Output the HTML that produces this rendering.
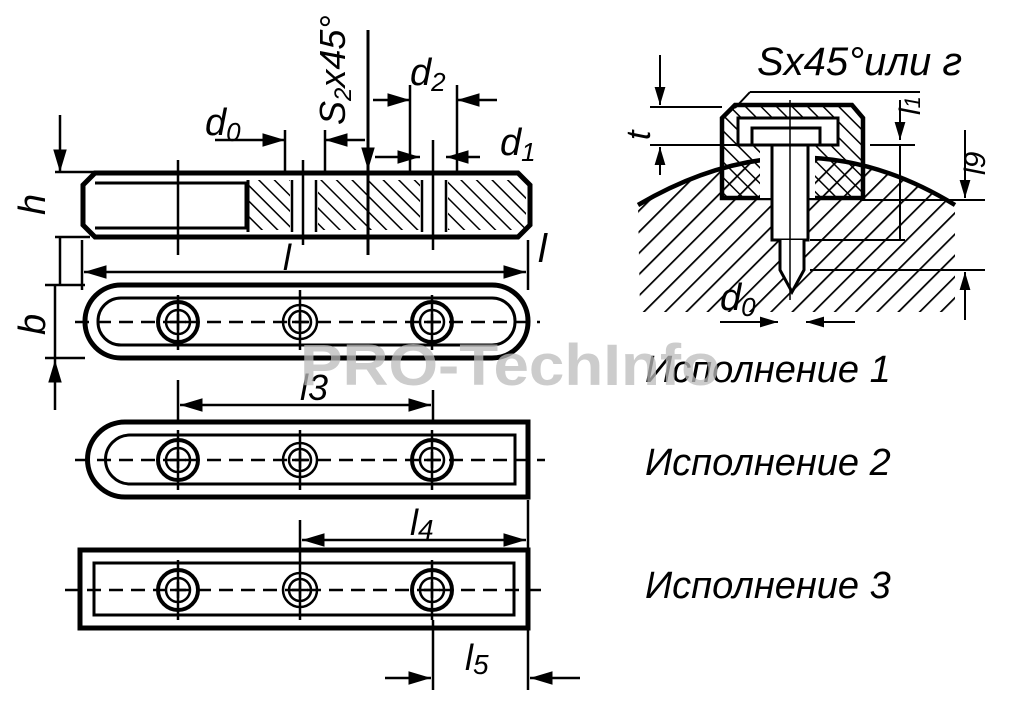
<!DOCTYPE html>
<html><head><meta charset="utf-8"><style>
html,body{margin:0;padding:0;background:#fff;}
svg{display:block}
text{font-family:"Liberation Sans",sans-serif;font-style:italic;fill:#000}
</style></head><body>
<svg width="1024" height="709" viewBox="0 0 1024 709" xmlns="http://www.w3.org/2000/svg">
<defs>
<pattern id="h" width="11" height="11" patternUnits="userSpaceOnUse" patternTransform="rotate(-45)">
<line x1="0" y1="0" x2="0" y2="11" stroke="#000" stroke-width="3"/></pattern>
<pattern id="h2" width="15" height="15" patternUnits="userSpaceOnUse" patternTransform="rotate(45)">
<line x1="0" y1="0" x2="0" y2="15" stroke="#000" stroke-width="3.5"/></pattern>
<marker id="a" viewBox="0 0 10 10" refX="10" refY="5" markerWidth="9" markerHeight="9" orient="auto-start-reverse"><path d="M0,2 L10,5 L0,8z" fill="#000"/></marker>
</defs>
<g stroke="#000" fill="none" stroke-width="2.5">
<rect x="248" y="180" width="278" height="50" fill="url(#h)" stroke="none"/>
<rect x="290" y="180" width="28" height="50" fill="#fff" stroke="none"/>
<rect x="420" y="180" width="28" height="50" fill="#fff" stroke="none"/>
<path d="M95,173 H518 L530,185 V225 L518,237 H95 L83,225 V185 Z" stroke-width="5"/>
<path d="M95,183 H246 V228 H95" stroke-width="3"/>
<line x1="248" y1="180" x2="248" y2="232" stroke-width="3"/>
<line x1="292" y1="180" x2="292" y2="232"/><line x1="316" y1="180" x2="316" y2="232"/>
<line x1="422" y1="180" x2="422" y2="232"/><line x1="446" y1="180" x2="446" y2="232"/>
<line x1="178" y1="160" x2="178" y2="255"/><line x1="303" y1="160" x2="303" y2="245"/>
<line x1="433" y1="140" x2="433" y2="250"/><line x1="368" y1="30" x2="368" y2="255" stroke-width="3"/>
<line x1="55" y1="172" x2="115" y2="172"/><line x1="55" y1="237" x2="90" y2="237"/>
<line x1="60" y1="115" x2="60" y2="172" marker-end="url(#a)"/><line x1="60" y1="237" x2="60" y2="285"/>
<line x1="82" y1="240" x2="82" y2="290"/><line x1="528" y1="240" x2="528" y2="290"/>
<line x1="84" y1="272" x2="526" y2="272" marker-start="url(#a)" marker-end="url(#a)"/>
<line x1="215" y1="140" x2="285" y2="140" marker-end="url(#a)"/><line x1="285" y1="130" x2="285" y2="175"/>
<line x1="325" y1="130" x2="325" y2="175"/><line x1="365" y1="140" x2="325" y2="140" marker-end="url(#a)"/>
<line x1="373" y1="100" x2="410" y2="100" marker-end="url(#a)"/><line x1="410" y1="85" x2="410" y2="175"/>
<line x1="457" y1="85" x2="457" y2="175"/><line x1="497" y1="100" x2="457" y2="100" marker-end="url(#a)"/>
<line x1="375" y1="157" x2="420" y2="157" marker-end="url(#a)"/><line x1="480" y1="157" x2="446" y2="157" marker-end="url(#a)"/>
<line x1="368" y1="140" x2="368" y2="170" marker-end="url(#a)"/>
<rect x="85" y="285" width="443" height="73" rx="36" stroke-width="5"/>
<rect x="98" y="298" width="417" height="47" rx="23" stroke-width="3"/>
<line x1="45" y1="285" x2="85" y2="285"/><line x1="45" y1="358" x2="85" y2="358"/>
<line x1="55" y1="285" x2="55" y2="360"/><line x1="55" y1="410" x2="55" y2="360" marker-end="url(#a)"/>
<line x1="75" y1="322" x2="540" y2="322" stroke-dasharray="14,8"/>
<line x1="178" y1="380" x2="178" y2="420"/><line x1="433" y1="390" x2="433" y2="420"/>
<line x1="180" y1="405" x2="431" y2="405" marker-start="url(#a)" marker-end="url(#a)"/>
<path d="M125,422 H528 V497 H125 A37.5,37.5 0 0 1 125,422 Z" stroke-width="5"/>
<path d="M130,435 H515 V484 H130 A24.5,24.5 0 0 1 130,435 Z" stroke-width="3"/>
<line x1="75" y1="460" x2="545" y2="460" stroke-dasharray="14,8"/>
<line x1="300" y1="520" x2="300" y2="620"/><line x1="528" y1="500" x2="528" y2="550"/>
<line x1="302" y1="540" x2="526" y2="540" marker-start="url(#a)" marker-end="url(#a)"/>
<rect x="80" y="550" width="448" height="78" stroke-width="5"/>
<rect x="94" y="563" width="420" height="52" stroke-width="3"/>
<line x1="65" y1="590" x2="545" y2="590" stroke-dasharray="14,8"/>
<line x1="433" y1="620" x2="433" y2="690"/><line x1="528" y1="628" x2="528" y2="690"/>
<line x1="385" y1="678" x2="431" y2="678" marker-end="url(#a)"/><line x1="580" y1="678" x2="530" y2="678" marker-end="url(#a)"/>
</g>
<g stroke="#000" fill="none" stroke-width="2.5">
<g transform="translate(178,322)"><circle r="20" stroke-width="4"/><circle r="12"/><path d="M-8,0H8M0,-8V8"/></g>
<g transform="translate(300,322)"><circle r="17"/><circle r="11"/><path d="M-8,0H8M0,-8V8"/></g>
<g transform="translate(432,322)"><circle r="20" stroke-width="4"/><circle r="12"/><path d="M-8,0H8M0,-8V8"/></g>
<g transform="translate(178,460)"><circle r="20" stroke-width="4"/><circle r="12"/><path d="M-8,0H8M0,-8V8"/></g>
<g transform="translate(300,460)"><circle r="17"/><circle r="11"/><path d="M-8,0H8M0,-8V8"/></g>
<g transform="translate(432,460)"><circle r="20" stroke-width="4"/><circle r="12"/><path d="M-8,0H8M0,-8V8"/></g>
<g transform="translate(178,590)"><circle r="20" stroke-width="4"/><circle r="12"/><path d="M-8,0H8M0,-8V8"/></g>
<g transform="translate(300,590)"><circle r="17"/><circle r="11"/><path d="M-8,0H8M0,-8V8"/></g>
<g transform="translate(432,590)"><circle r="20" stroke-width="4"/><circle r="12"/><path d="M-8,0H8M0,-8V8"/></g>
<line x1="178" y1="295" x2="178" y2="350"/><line x1="432" y1="295" x2="432" y2="350"/><line x1="300" y1="290" x2="300" y2="350"/>
<line x1="178" y1="430" x2="178" y2="490"/><line x1="432" y1="430" x2="432" y2="490"/><line x1="300" y1="430" x2="300" y2="490"/>
<line x1="178" y1="560" x2="178" y2="620"/><line x1="432" y1="560" x2="432" y2="620"/>
</g>
<g stroke="#000" fill="none">
<path d="M638,205 Q800,110 955,205 L955,312 L640,312 Z" fill="url(#h2)" stroke="none"/>
<path d="M638,205 Q800,110 955,205" stroke-width="4.5"/>
<path d="M735,105 H852 L863,118 V198 H722 V118 Z" fill="url(#h)" stroke-width="4.5"/>
<rect x="760" y="118" width="55" height="80" fill="#fff" stroke="none"/>
<path d="M738,118 H838 V145 H738 Z" fill="#fff" stroke-width="3"/>
<path d="M752,145 V128 H820 V145" stroke-width="3"/>
<rect x="772" y="145" width="36" height="95" fill="#fff" stroke-width="3"/>
<path d="M780,240 V270 L792,292 L804,270 V240" fill="#fff" stroke-width="3"/>
<line x1="790" y1="100" x2="790" y2="300" stroke-width="1.5"/>
<line x1="650" y1="107" x2="722" y2="107" stroke-width="2"/><line x1="650" y1="145" x2="760" y2="145" stroke-width="2"/>
<line x1="660" y1="55" x2="660" y2="105" marker-end="url(#a)" stroke-width="2"/><line x1="660" y1="175" x2="660" y2="147" marker-end="url(#a)" stroke-width="2"/>
<line x1="750" y1="92" x2="920" y2="92" stroke-width="2"/><line x1="750" y1="92" x2="735" y2="108" stroke-width="2"/>
<line x1="870" y1="145" x2="915" y2="145" stroke-width="2"/>
<line x1="900" y1="100" x2="900" y2="140" marker-end="url(#a)" stroke-width="2"/><line x1="900" y1="145" x2="900" y2="240" stroke-width="2"/>
<line x1="810" y1="240" x2="905" y2="240" stroke-width="2"/>
<line x1="860" y1="200" x2="985" y2="200" stroke-width="2"/><line x1="810" y1="270" x2="985" y2="270" stroke-width="2"/>
<line x1="965" y1="130" x2="965" y2="198" marker-end="url(#a)" stroke-width="2"/><line x1="965" y1="320" x2="965" y2="272" marker-end="url(#a)" stroke-width="2"/>
<line x1="720" y1="322" x2="778" y2="322" marker-end="url(#a)" stroke-width="2"/><line x1="855" y1="322" x2="806" y2="322" marker-end="url(#a)" stroke-width="2"/>
</g>
<g font-size="40">
<text x="205" y="135" font-size="38">d<tspan font-size="26" dy="6">0</tspan></text>
<text x="410" y="85" font-size="38">d<tspan font-size="26" dy="6">2</tspan></text>
<text x="500" y="155" font-size="38">d<tspan font-size="26" dy="6">1</tspan></text>
<text transform="translate(345,125) rotate(-90)" font-size="36">S<tspan font-size="24" dy="6">2</tspan><tspan dy="-6">x45°</tspan></text>
<text transform="translate(45,215) rotate(-90)" font-size="38">h</text>
<text transform="translate(45,335) rotate(-90)" font-size="38">b</text>
<text x="283" y="270" font-size="36">l</text>
<text x="538" y="262" font-size="40">l</text>
<text x="300" y="400" font-size="36">l3</text>
<text x="410" y="535" font-size="36">l<tspan font-size="28" dy="4">4</tspan></text>
<text x="465" y="670" font-size="36">l<tspan font-size="28" dy="4">5</tspan></text>
<text x="757" y="75" font-size="40">Sx45°или г</text>
<text transform="translate(650,140) rotate(-90)" font-size="34">t</text>
<text transform="translate(920,115) rotate(-90)" font-size="30">l<tspan font-size="22">1</tspan></text>
<text transform="translate(985,175) rotate(-90)" font-size="30">l9</text>
<text x="720" y="310" font-size="38">d<tspan font-size="26" dy="6">0</tspan></text>
<text x="645" y="382" font-size="38">Исполнение 1</text>
<text x="645" y="475" font-size="38">Исполнение 2</text>
<text x="645" y="598" font-size="38">Исполнение 3</text>
</g>
<text x="300" y="385" font-size="58" font-weight="bold" textLength="420" lengthAdjust="spacingAndGlyphs" style="font-style:normal;fill:#bbb;opacity:0.75">PRO-TechInfo</text>
</svg>
</body></html>
